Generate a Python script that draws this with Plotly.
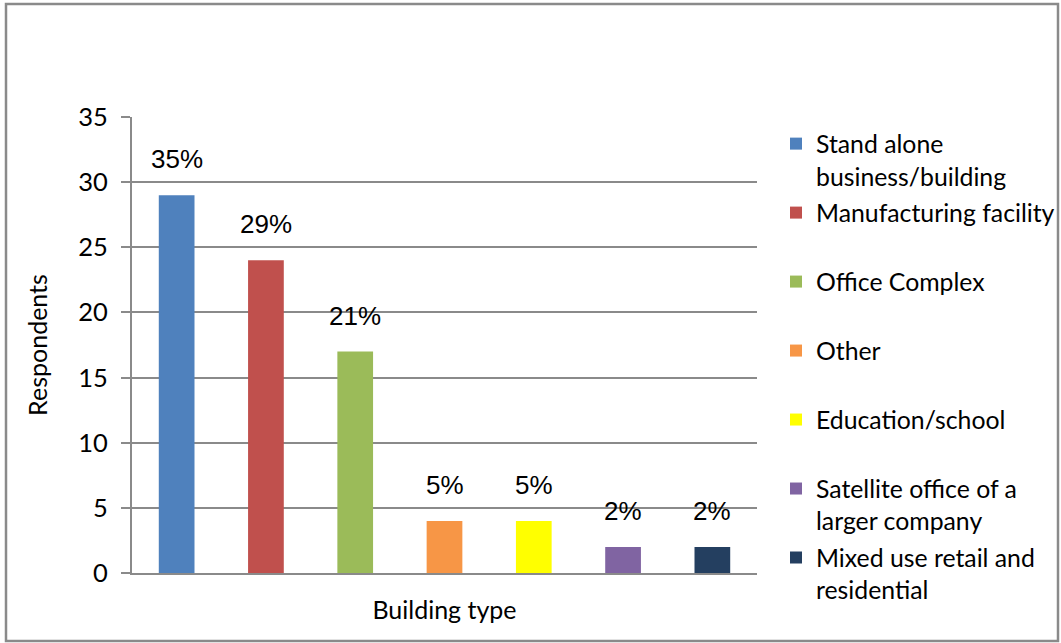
import plotly.graph_objects as go

categories = ["Stand alone business/building", "Manufacturing facility", "Office Complex",
              "Other", "Education/school", "Satellite office of a larger company",
              "Mixed use retail and residential"]
legend_labels = ["Stand alone<br>business/building", "Manufacturing facility<br> ",
                 "Office Complex<br> ", "Other<br> ", "Education/school<br> ",
                 "Satellite office of a<br>larger company", "Mixed use retail and<br>residential"]
respondents = [29, 24, 17, 4, 4, 2, 2]
pct_labels = ["35%", "29%", "21%", "5%", "5%", "2%", "2%"]
colors = ["#4F81BD", "#C0504D", "#9BBB59", "#F79646", "#FFFF00", "#8064A2", "#243F60"]

W, H = 1061, 643
L, R, T, B = 132, 304, 117, 70
pw, ph = W - L - R, H - T - B

fig = go.Figure()
for cat, lab, v, c in zip(categories, legend_labels, respondents, colors):
    fig.add_trace(go.Bar(x=[cat], y=[v], name=lab, marker=dict(color=c, line=dict(width=0)),
                         width=0.4, legendgroup=cat, hoverinfo="y"))

for cat, v, t in zip(categories, respondents, pct_labels):
    fig.add_annotation(x=cat, y=v, text=t, showarrow=False, yanchor="bottom", yshift=19,
                       font=dict(family="Liberation Sans, Arial", size=26, color="#000"))

def px_to_paper_x(px):
    return (px - L) / pw

def px_to_paper_y(py):
    return (H - B - py) / ph

fig.add_shape(type="rect", xref="paper", yref="paper",
              x0=px_to_paper_x(6), x1=px_to_paper_x(1058),
              y0=px_to_paper_y(641), y1=px_to_paper_y(4),
              line=dict(color="#8a8a8a", width=2.5), fillcolor="rgba(0,0,0,0)", layer="below")

font_main = "Lato, Carlito, Calibri, sans-serif"
fig.update_layout(
    width=W, height=H,
    margin=dict(l=L, r=R, t=T, b=B, pad=0, autoexpand=False),
    paper_bgcolor="white", plot_bgcolor="white",
    barmode="overlay",
    font=dict(family=font_main, size=24, color="#000"),
    showlegend=True,
    legend=dict(x=px_to_paper_x(776), y=px_to_paper_y(121), xanchor="left", yanchor="top",
                valign="top", tracegroupgap=1.5, maxheight=620,
                font=dict(family=font_main, size=24.8, color="#000"),
                bgcolor="rgba(0,0,0,0)", itemclick=False),
    xaxis=dict(showticklabels=False, showline=True, linecolor="#8a8a8a", linewidth=2,
               ticks="", showgrid=False, zeroline=False,
               title=dict(text="Building type", standoff=27, font=dict(family=font_main, size=25))),
    yaxis=dict(range=[0, 35], dtick=5, showgrid=True, gridcolor="#8a8a8a", gridwidth=2,
               showline=True, linecolor="#8a8a8a", linewidth=2, zeroline=False,
               ticks="outside", ticklen=9, tickcolor="#8a8a8a", tickwidth=2,
               ticklabelstandoff=8, tickfont=dict(family=font_main, size=25.5, color="#000"),
               title=dict(text="Respondents", standoff=24, font=dict(family=font_main, size=25))),
)

fig.write_html("out.html", config={"displayModeBar": False},
               post_script="document.body.style.margin='0';")
